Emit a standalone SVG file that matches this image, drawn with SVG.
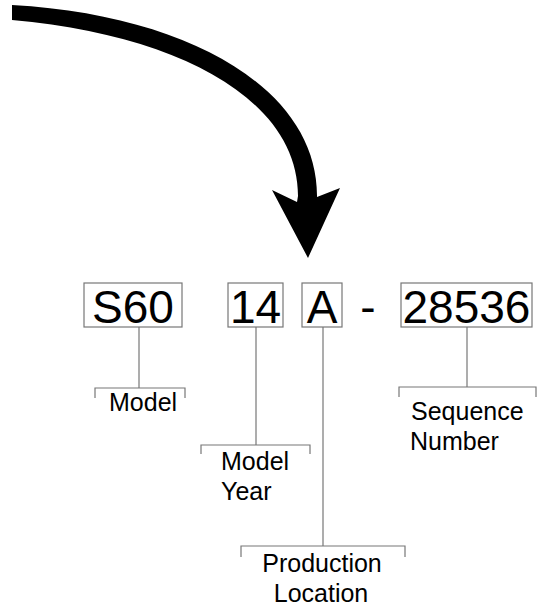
<svg xmlns="http://www.w3.org/2000/svg" width="540" height="614" viewBox="0 0 540 614">
<style>
.box{fill:#fff;stroke:#777;stroke-width:1.2}
.big{font-family:"Liberation Sans",Arial,sans-serif;font-size:46px;fill:#000;text-anchor:middle}
.lbl{font-family:"Liberation Sans",Arial,sans-serif;font-size:25px;fill:#000}
.ln{fill:none;stroke:#777;stroke-width:1.2}
</style>
<rect width="540" height="614" fill="#fff"/>
<g id="arrow">
<path d="M12,5 C190,15 318,90 317,197 L340,188 L308,258 L272,190 L297,202 L298,196 C298,100 180,35 12,20 Z" fill="#000"/>
</g>
<g id="connectors">
<path class="ln" d="M139,327 V388 M95,398 V388 H185 V398"/>
<path class="ln" d="M256,327 V445 M201,454 V445 H310 V454"/>
<path class="ln" d="M323,327 V546 M241,557 V546 H405 V557"/>
<path class="ln" d="M467,327 V387 M399,397 V387 H536 V397"/>
</g>
<g id="node-s60">
<rect class="box" x="84" y="283" width="98" height="44"/>
<text class="big" x="133" y="323">S60</text>
</g>
<g id="node-14">
<rect class="box" x="228" y="283" width="55" height="44"/>
<text class="big" x="255.5" y="323">14</text>
</g>
<g id="node-a">
<rect class="box" x="302" y="283" width="40" height="44"/>
<text class="big" x="322" y="323">A</text>
</g>
<g id="dash">
<text class="big" x="368" y="323">-</text>
</g>
<g id="node-28536">
<rect class="box" x="401" y="283" width="131" height="44"/>
<text class="big" x="466.5" y="323">28536</text>
</g>
<g id="label-model">
<text class="lbl" x="109" y="411">Model</text>
</g>
<g id="label-model-year">
<text class="lbl" x="221" y="470">Model</text>
<text class="lbl" x="221" y="500">Year</text>
</g>
<g id="label-production">
<text class="lbl" x="322" y="572" text-anchor="middle">Production</text>
<text class="lbl" x="321" y="602" text-anchor="middle">Location</text>
</g>
<g id="label-sequence">
<text class="lbl" x="411" y="420">Sequence</text>
<text class="lbl" x="410" y="450">Number</text>
</g>
</svg>
